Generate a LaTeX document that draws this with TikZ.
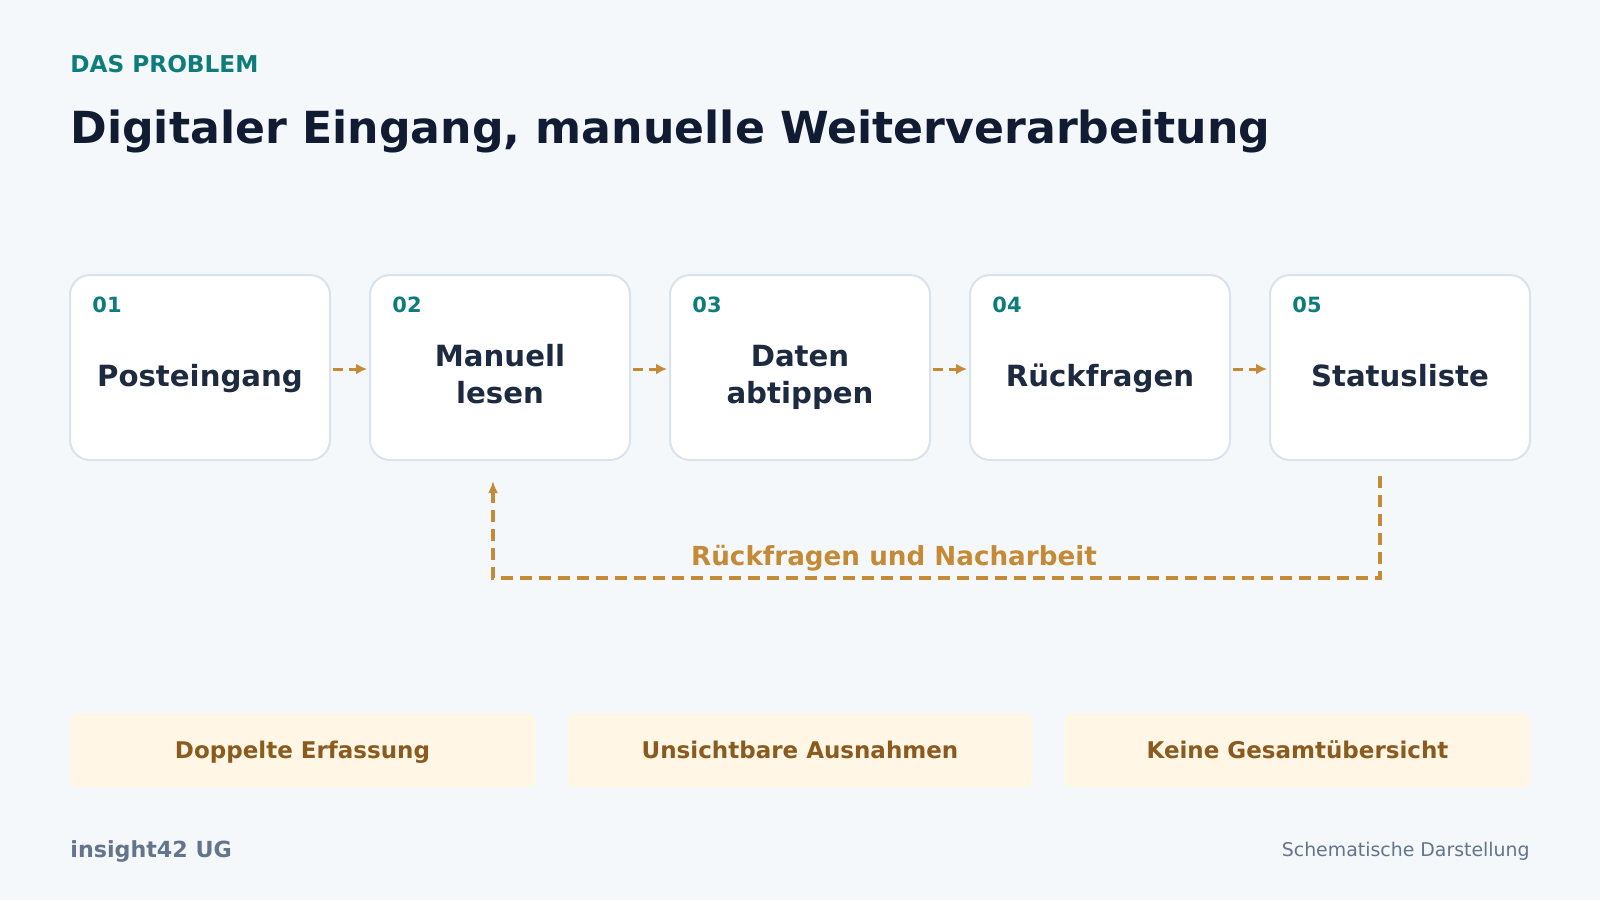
\documentclass[tikz,border=0pt]{standalone}
\usepackage{fontspec}
\setmainfont{DejaVu Sans}
\usepackage{tikz}
\usetikzlibrary{arrows.meta}

\definecolor{bgcol}{HTML}{F4F8FB}
\definecolor{tealcol}{HTML}{0F7C7C}
\definecolor{navycol}{HTML}{111C33}
\definecolor{boxtext}{HTML}{1E2A40}
\definecolor{goldcol}{HTML}{C48A35}
\definecolor{browncol}{HTML}{8A5A1E}
\definecolor{creamcol}{HTML}{FFF6E6}
\definecolor{graycol}{HTML}{64748B}
\definecolor{bordercol}{HTML}{DAE2EB}

\tikzset{
  stepbox/.style={draw=bordercol, line width=1pt, fill=white, rounded corners=10pt,
    minimum width=130pt, minimum height=92.5pt, inner sep=0pt},
  steplbl/.style={text=boxtext, font=\fontsize{14.6}{18.2}\selectfont\bfseries, align=center, inner sep=0pt},
  oneline/.style={text height=10.6pt, text depth=0pt},
  numlbl/.style={text=tealcol, font=\fontsize{10.5}{12}\selectfont\bfseries, inner sep=0pt},
  flowarrow/.style={draw=goldcol, line width=1.5pt, dash pattern=on 5pt off 3pt,
    -{Latex[length=5.5pt,width=5.5pt]}},
  loopline/.style={draw=goldcol, line width=1.6pt, dash pattern=on 6pt off 3.5pt,
    -{Latex[length=6pt,width=5pt]}},
  issuebox/.style={fill=creamcol, rounded corners=4pt, minimum width=232.5pt,
    minimum height=37pt, inner sep=0pt, text=browncol, text height=8.4pt, text depth=0pt,
    font=\fontsize{11.5}{13}\selectfont\bfseries}
}

\begin{document}
\begin{tikzpicture}[x=0.5pt,y=0.5pt,yscale=-1,xscale=1]
% background / page size
\fill[bgcol] (0,0) rectangle (1600,900);
\useasboundingbox (0,0) rectangle (1600,900);

% Header
\node [anchor=base west, inner sep=0pt, text=tealcol, font=\fontsize{11.6}{13}\selectfont\bfseries] (kicker) at (70,72.5) {DAS PROBLEM};
\node [anchor=base west, inner sep=0pt, text=navycol, font=\fontsize{22.1}{26}\selectfont\bfseries] (title) at (70,143) {Digitaler Eingang, manuelle Weiterverarbeitung};

% Steps
\node [stepbox] (s1) at (200,367.5) {};
\node [stepbox] (s2) at (500,367.5) {};
\node [stepbox] (s3) at (800,367.5) {};
\node [stepbox] (s4) at (1100,367.5) {};
\node [stepbox] (s5) at (1400,367.5) {};

% Step numbers
\node [numlbl, anchor=west] (n1) at (92,305) {01};
\node [numlbl, anchor=west] (n2) at (392,305) {02};
\node [numlbl, anchor=west] (n3) at (692,305) {03};
\node [numlbl, anchor=west] (n4) at (992,305) {04};
\node [numlbl, anchor=west] (n5) at (1292,305) {05};

% Step texts
\node [steplbl, oneline] (t1) at (200,375.5) {Posteingang};
\node [steplbl] (t2) at (500,374) {Manuell\\lesen};
\node [steplbl] (t3) at (800,377.5) {Daten\\abtippen};
\node [steplbl, oneline] (t4) at (1100,375.5) {Rückfragen};
\node [steplbl, oneline] (t5) at (1400,375.5) {Statusliste};

% Flow arrows
\foreach \a/\b in {s1/s2,s2/s3,s3/s4,s4/s5}
  \draw [flowarrow] ([xshift=1pt,yshift=0.75pt]\a.east) -- ([xshift=-1pt,yshift=0.75pt]\b.west);

% Feedback loop
\coordinate (fbstart) at (1380,476);
\coordinate (fbcorner) at (1380,578);
\coordinate (fbend) at (493,481);
\draw [loopline] (fbstart) -- (fbcorner) -| (fbend);
\node [inner sep=0pt, text=goldcol, font=\fontsize{13.1}{15}\selectfont\bfseries] (fblbl) at (894,558) {Rückfragen und Nacharbeit};

% Issues
\node [issuebox] (i1) at (302.5,750) {Doppelte Erfassung};
\node [issuebox] (i2) at (800,750) {Unsichtbare Ausnahmen};
\node [issuebox] (i3) at (1297.5,750) {Keine Gesamtübersicht};

% Footer
\node [anchor=base west, inner sep=0pt, text=graycol, font=\fontsize{11.1}{13}\selectfont\bfseries] (brand) at (70,857) {insight42 UG};
\node [anchor=base east, inner sep=0pt, text=graycol, font=\fontsize{9.45}{11}\selectfont] (note) at (1530,856) {Schematische Darstellung};

\end{tikzpicture}
\end{document}
